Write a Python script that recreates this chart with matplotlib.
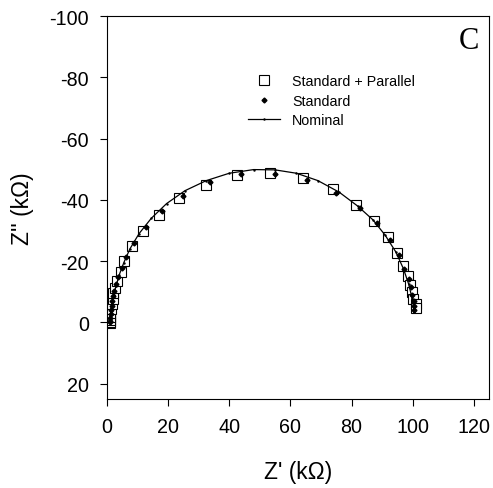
import matplotlib
matplotlib.use("Agg")
import matplotlib.pyplot as plt

plt.rcParams["font.family"] = ["Liberation Sans", "DejaVu Sans"]
plt.rcParams["axes.unicode_minus"] = False

# Standard + Parallel (squares)
sp_x = [1.0, 1.0, 1.0, 1.0, 1.1, 1.3, 1.5, 1.9, 2.1, 2.5, 3.4, 4.5, 5.7, 8.3, 11.9,
        17.0, 23.6, 32.4, 42.6, 53.3, 64.1, 73.8, 81.4, 87.3, 91.8, 94.9, 96.8,
        98.4, 99.1, 99.7, 100.1, 101.0, 101.0]
sp_y = [0.3, 0.0, -0.7, -1.9, -3.2, -4.5, -6.1, -7.7, -9.5, -11.3, -13.6, -16.4, -20.0,
        -24.8, -29.8, -35.2, -40.5, -45.0, -48.1, -48.7, -47.0, -43.5, -38.2, -33.0,
        -27.8, -22.8, -18.5, -15.0, -12.2, -9.9, -7.7, -6.1, -4.7]

# Standard (small filled diamonds)
st_x = [1.0, 1.0, 1.1, 1.2, 1.3, 1.5, 1.7, 2.0, 2.3, 2.8, 3.7, 4.9, 6.3, 9.0, 12.8,
        18.0, 24.8, 33.7, 43.8, 54.9, 65.6, 75.0, 82.9, 88.5, 92.6, 95.4, 97.3,
        98.7, 99.4, 99.9, 100.3, 100.5, 100.5]
st_y = [0.0, -0.5, -1.4, -2.6, -3.9, -5.3, -6.9, -8.6, -10.4, -12.4, -14.9, -17.9,
        -21.3, -26.0, -31.0, -36.4, -41.4, -45.8, -48.5, -48.4, -46.4, -42.4, -37.2,
        -32.3, -26.9, -21.9, -17.6, -14.1, -11.5, -9.1, -7.0, -5.4, -4.0]

# Nominal (line)
nom_x = [1.0, 1.1, 1.3, 1.7, 2.2, 3.0, 4.0, 5.5, 7.5, 10.5, 14.5, 19.5, 25.5, 32.5,
         40.0, 48.0, 55.0, 62.0, 69.0, 76.0, 82.0, 87.0, 91.0, 94.5, 97.0, 98.7,
         99.8, 100.3, 100.5]
nom_y = [0.0, -2.0, -4.0, -6.5, -9.0, -12.0, -15.5, -19.5, -24.0, -29.0, -34.0, -38.8,
         -43.0, -46.3, -48.7, -49.9, -49.8, -48.7, -46.3, -42.5, -38.0, -33.5, -28.5,
         -23.0, -17.5, -12.5, -8.0, -5.0, -3.5]

x_ticks = [0, 20, 40, 60, 80, 100, 120]
y_ticks = [-100, -80, -60, -40, -20, 0, 20]

fig = plt.figure(figsize=(4.93, 4.89), dpi=100)
ax = fig.add_axes([0.217, 0.182, 0.775, 0.783])

ax.plot(sp_x, sp_y, linestyle="none", marker="s", markersize=7, markerfacecolor="white",
        markeredgecolor="black", markeredgewidth=0.8, label="Standard + Parallel", zorder=2)
ax.plot(st_x, st_y, linestyle="none", marker="D", markersize=2.5, color="black",
        label="Standard", zorder=3)
ax.plot(nom_x, nom_y, color="black", linewidth=0.9, marker=".", markersize=1.5,
        label="Nominal", zorder=4)

ax.set_xlim(0, 125)
ax.set_ylim(25, -100)
ax.set_xticks(x_ticks)
ax.set_yticks(y_ticks)
ax.tick_params(direction="out", length=5, width=0.8, labelsize=14.2, pad=8,
               top=False, right=False)
for s in ax.spines.values():
    s.set_linewidth(0.8)

ax.set_xlabel("Z' (k\u03a9)", fontsize=16.5, labelpad=17)
ax.set_ylabel("Z'' (k\u03a9)", fontsize=16.5, labelpad=11)

ax.text(0.975, 0.975, "C", transform=ax.transAxes, ha="right", va="top",
        fontsize=22, family="Liberation Serif")

ax.legend(loc="upper left", bbox_to_anchor=(0.351, 0.868), frameon=False, fontsize=10.3,
          handlelength=2.2, handletextpad=0.88, labelspacing=0.4, borderpad=0)

fig.savefig("out.png", dpi=100)
